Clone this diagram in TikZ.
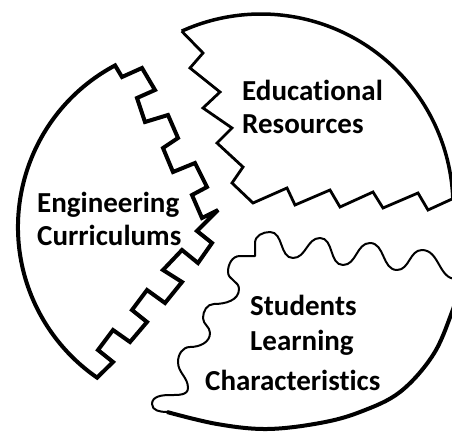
\documentclass[tikz,border=0pt]{standalone}
\usepackage{fontspec}
\setmainfont{Carlito}[Ligatures=NoCommon]
\usetikzlibrary{calc}
\begin{document}
\begin{tikzpicture}[x=1pt,y=1pt,yscale=-1,
  rimline/.style={line width=4pt,line join=round},
  stairline/.style={line width=4pt,line join=miter,miter limit=4},
  zigline/.style={line width=2.8pt,line join=miter},
  waveline/.style={line width=2pt,line join=round},
  lbl/.style={anchor=base west,inner sep=0pt,font=\bfseries\fontsize{29}{35}\selectfont}]
\useasboundingbox (0,0) rectangle (452,431);
\clip (0,0) rectangle (452,431);
% left piece: Engineering Curriculums
\coordinate (cL) at (201,227);
\draw[stairline] ($(cL)+(242:183)$) arc[start angle=242,end angle=124.6,radius=183]
  -- (113,362) -- (98,350) -- (113,330) -- (130,342) -- (147,322) -- (132,310)
  -- (147,290) -- (165,303) -- (182,282) -- (163,270) -- (182,250) -- (198,263)
  -- (212,243) -- (197,231) -- (218,210) -- (202,218) -- (192,195) -- (207,187)
  -- (195,163) -- (173,172) -- (163,148) -- (178,138) -- (168,115) -- (145,122)
  -- (137,98) -- (155,90) -- (142,68) -- (122,77) -- cycle;
% upper right piece: Educational Resources
\coordinate (cU) at (261,206);
\draw[rimline,line width=3.5pt] ($(cU)+(-114.4:192)$) coordinate (u0)
  arc[start angle=-114.4,end angle=-2.2,radius=192] coordinate (u1);
\draw[zigline] (u1) -- (428,210) -- (418,193) -- (383,208) -- (373,192) -- (340,207)
  -- (330,190) -- (295,205) -- (287,188) -- (253,203) -- (232,183) -- (243,167)
  -- (217,143) -- (232,128) -- (203,108) -- (220,92) -- (190,68) -- (203,53) -- (u0);
% lower right piece: Students Learning Characteristics
\coordinate (w0) at (456,279);
\coordinate (w1) at (167,412);
\draw[waveline] (w0) to[out=180,in=0] (422,250) to[out=180,in=0] (397,270)
  to[out=180,in=0] (370,243) to[out=180,in=0] (343,265) to[out=180,in=0] (320,238)
  to[out=180,in=0] (293,258) to[out=180,in=0] (270,232) to[out=180,in=-90] (255,243)
  -- (255,256) -- (240,256) to[out=180,in=-90] (228,272) to[out=90,in=-90] (239,289)
  to[out=90,in=0] (214,304) to[out=180,in=-90] (203,318) to[out=90,in=-90] (210,333)
  to[out=90,in=0] (190,347) to[out=180,in=-90] (178,362) to[out=90,in=-90] (188,388)
  to[out=90,in=0] (170,395) to[out=180,in=-90] (152,404) to[out=90,in=180] (w1);
\draw[rimline] plot[smooth,tension=0.6] coordinates {(167,412) (217,424) (267,429)
  (320,423) (360,412) (400,392) (433,355) (452,312) (462,280)};
% labels
\node[lbl] (ed) at (242,100) {Educational};
\node[lbl] (re) at (242,133) {Resources};
\node[lbl] (en) at (37,212) {Engineering};
\node[lbl] (cu) at (37,245) {Curriculums};
\node[lbl] (st) at (250,315) {Students};
\node[lbl] (le) at (250,350) {Learning};
\node[lbl] (ch) at (205,390) {Characteristics};
\end{tikzpicture}
\end{document}
